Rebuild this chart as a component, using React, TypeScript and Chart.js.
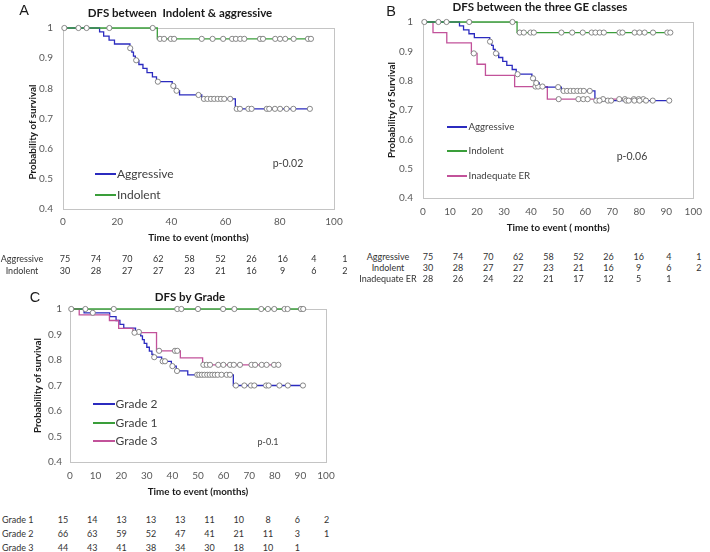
import React, { useEffect, useRef } from "react";
import { Chart, registerables } from "chart.js";
Chart.register(...registerables);

type Ev = [number, number];

// ---------- DATA ----------
const aggressiveEvents: Ev[] = [
  [13.5, 0.987], [15, 0.973], [17, 0.96], [19, 0.947], [24.7, 0.933], [25.4, 0.92],
  [26, 0.907], [26.7, 0.893], [28, 0.879], [29.5, 0.866], [31, 0.852], [33, 0.838],
  [34.5, 0.822], [40.3, 0.808], [41.5, 0.792], [43, 0.778], [51.2, 0.765], [63.6, 0.732],
];
const aggressiveCensored = [
  24.8, 27, 35, 40.7, 41.9, 50, 52, 53.3, 54.6, 55.8, 57.1, 58.3, 59.5, 61.7, 64.1, 65.3,
  68.4, 69.6, 75.2, 76.1, 78.2, 80.1, 82.5, 85, 91.1,
];
const indolentEvents: Ev[] = [[34.8, 0.964]];
const indolentCensored = [
  0.5, 5.7, 8.7, 17.1, 33.1, 35.8, 37.3, 39.8, 41, 51.2, 55.2, 59.1, 62.4, 63.8, 65.4, 66.9,
  72.7, 73.8, 78.3, 80.1, 82, 85.1, 90.4, 91.5,
];
const inadequateEvents: Ev[] = [
  [3.7, 0.964], [8.8, 0.929], [17.9, 0.893], [20, 0.856], [23.1, 0.818], [33.9, 0.78], [46, 0.737],
];
const inadequateCensored = [18.8, 41.6, 42.6, 44.2, 50.2, 57.5, 59.3, 60.9, 66.6, 72.6, 74.7, 78, 79.8, 81.5];

const grade1Events: Ev[] = [];
const grade1Censored = [0.5, 6, 17.1, 41.9, 43.5, 50, 59.8, 64.2, 74.7, 77.3, 79.8, 83.8, 85, 90.2, 91.1];
const grade2Events: Ev[] = [
  [5.5, 0.985], [15.5, 0.97], [18, 0.955], [19.5, 0.94], [21, 0.925], [25.6, 0.91], [27.6, 0.895],
  [28.3, 0.88], [29, 0.865], [30, 0.85], [31, 0.835], [32, 0.822], [32.6, 0.811], [35.8, 0.795],
  [39.6, 0.776], [41.5, 0.757], [46, 0.742], [63.8, 0.7],
];
const grade2Censored = [
  8.9, 26.9, 32.9, 36.2, 37.1, 40, 41.8, 49.7, 50.5, 51.5, 52.5, 53.6, 54.6, 55.6, 56.6, 57.7,
  59.2, 61.2, 62.5, 64.8, 68.1, 70.7, 72, 76.6, 77.6, 81.8, 85.1, 91,
];
const grade3Events: Ev[] = [
  [3.6, 0.977], [15.4, 0.955], [19, 0.924], [24.6, 0.907], [33.8, 0.836], [43.1, 0.808], [51.8, 0.781],
];
const grade3Censored = [
  25.2, 34.8, 41, 41.9, 52.1, 53.4, 54.7, 57.9, 59.9, 62.5, 64, 66.4, 70.9, 72.3, 74.9, 76.8, 79.7, 81.4,
];

// numbers at risk
const riskAggressive = [75, 74, 70, 62, 58, 52, 26, 16, 4, 1];
const riskIndolent = [30, 28, 27, 27, 23, 21, 16, 9, 6, 2];
const riskInadequate = [28, 26, 24, 22, 21, 17, 12, 5, 1];
const riskGrade1 = [15, 14, 13, 13, 13, 11, 10, 8, 6, 2];
const riskGrade2 = [66, 63, 59, 52, 47, 41, 21, 11, 3, 1];
const riskGrade3 = [44, 43, 41, 38, 34, 30, 18, 10, 1];

// ---------- STYLE ----------
const FONT = "Lato, 'Open Sans', sans-serif";
const BLUE = "#2b2bbf";
const GREEN = "#3a9e3a";
const PINK = "#c2529a";
const TICK = "#595959";
const TXT = "#1a1a1a";

function survAt(events: Ev[], t: number) {
  let s = 1;
  for (const [et, es] of events) if (et <= t) s = es;
  return s;
}
function curve(events: Ev[], censored: number[]) {
  const end = Math.max(...censored, ...events.map((e) => e[0]));
  const pts = [{ x: 0, y: 1 }, ...events.map(([x, y]) => ({ x, y }))];
  pts.push({ x: end, y: survAt(events, end) });
  return pts;
}
function marks(events: Ev[], censored: number[]) {
  return censored.map((t) => ({ x: t, y: survAt(events, t) }));
}

interface Series { label: string; color: string; events: Ev[]; censored: number[] }
interface Geo {
  left: number; top: number; width: number; height: number;
  L: number; T: number; R: number; B: number;
  titleX: number; titleY: number; yTitleX: number; yTitleY?: number;
  xTitleY: number; xTickPad: number; yTickPad: number;
}

function KMPanel(props: { geo: Geo; series: Series[]; xStep: number; title: string; yTitle: string; xTitle: string }) {
  const ref = useRef<HTMLCanvasElement>(null);
  const { geo: g, series, xStep, title, yTitle, xTitle } = props;
  useEffect(() => {
    const canvas = ref.current!;
    const titleSize = 11.5;
    const axisSize = 9.8;
    const AL = axisSize * 1.2;
    const padRight = g.left + g.width - g.R;
    const padTop = g.T - g.top;
    const yAxisW = g.L - g.left;
    const xAxisH = g.height - (g.B - g.top);
    const yTitlePad = g.yTitleX - g.left - AL / 2;
    const xTitlePadBottom = g.top + g.height - g.xTitleY - AL / 2;
    const customY = g.yTitleY !== undefined;

    const datasets: any[] = [];
    series.forEach((s) =>
      datasets.push({
        label: s.label + " (censored)",
        data: marks(s.events, s.censored),
        showLine: false,
        pointRadius: 2.6,
        pointBackgroundColor: "#ffffff",
        pointBorderColor: "#7a7a7a",
        pointBorderWidth: 0.9,
        clip: false,
      })
    );
    series.forEach((s) =>
      datasets.push({
        label: s.label,
        data: curve(s.events, s.censored),
        borderColor: s.color,
        borderWidth: 1.3,
        stepped: true,
        pointRadius: 0,
        fill: false,
        clip: false,
      })
    );

    const panelPlugin = {
      id: "panelDecor",
      beforeDatasetsDraw(chart: any) {
        const { ctx, chartArea: a } = chart;
        ctx.save();
        ctx.strokeStyle = "#c4c4c4";
        ctx.lineWidth = 1;
        ctx.strokeRect(Math.round(a.left) + 0.5, Math.round(a.top) + 0.5, Math.round(a.right - a.left), Math.round(a.bottom - a.top));
        ctx.restore();
      },
      afterDraw(chart: any) {
        const { ctx } = chart;
        ctx.save();
        ctx.font = `bold ${titleSize}px ${FONT}`;
        ctx.fillStyle = TXT;
        ctx.textAlign = "center";
        ctx.textBaseline = "middle";
        ctx.fillText(title, g.titleX - g.left, g.titleY - g.top);
        if (customY) {
          ctx.translate(g.yTitleX - g.left, (g.yTitleY as number) - g.top);
          ctx.rotate(-Math.PI / 2);
          ctx.font = `bold ${axisSize}px ${FONT}`;
          ctx.fillText(yTitle, 0, 0);
        }
        ctx.restore();
      },
    };

    const chart = new Chart(canvas, {
      type: "line",
      data: { datasets },
      plugins: [panelPlugin],
      options: {
        responsive: false,
        maintainAspectRatio: false,
        animation: false,
        devicePixelRatio: 1,
        layout: { padding: { left: 0, right: padRight, top: padTop, bottom: 0 } },
        plugins: {
          legend: { display: false },
          tooltip: { enabled: false },
          title: { display: false },
        },
        scales: {
          x: {
            type: "linear",
            min: 0,
            max: 100,
            grid: { display: false, drawTicks: false },
            border: { display: false },
            ticks: {
              stepSize: xStep,
              autoSkip: false,
              maxRotation: 0,
              padding: g.xTickPad,
              color: TICK,
              font: { family: FONT, size: 10, lineHeight: 1.2 },
            },
            title: {
              display: true,
              text: xTitle,
              color: TXT,
              font: { family: FONT, size: axisSize, weight: "bold", lineHeight: 1.2 },
              padding: { top: 0, bottom: xTitlePadBottom },
            },
            afterFit: (s: any) => { s.height = xAxisH; },
          },
          y: {
            type: "linear",
            min: 0.4,
            max: 1,
            grid: { display: false, drawTicks: false },
            border: { display: false },
            ticks: {
              stepSize: 0.1,
              padding: g.yTickPad,
              color: TICK,
              font: { family: FONT, size: 10, lineHeight: 1.2 },
              callback: (v: any) => String(Math.round(Number(v) * 10) / 10),
            },
            title: {
              display: !customY,
              text: yTitle,
              color: TXT,
              font: { family: FONT, size: axisSize, weight: "bold", lineHeight: 1.2 },
              padding: { top: yTitlePad, bottom: 0 },
            },
            afterFit: (s: any) => { s.width = yAxisW; },
          },
        },
      } as any,
    });
    return () => chart.destroy();
  }, []);
  return (
    <canvas
      ref={ref}
      width={g.width}
      height={g.height}
      style={{ position: "absolute", left: g.left, top: g.top, width: g.width, height: g.height }}
    />
  );
}

function Txt(p: { x: number; y: number; text: string; size: number; align?: "left" | "center"; weight?: string; color?: string; family?: string }) {
  return (
    <div
      style={{
        position: "absolute",
        left: p.x,
        top: p.y,
        transform: p.align === "left" ? "translate(0,-50%)" : "translate(-50%,-50%)",
        fontSize: p.size,
        fontWeight: (p.weight as any) || "normal",
        color: p.color || "#333",
        fontFamily: p.family || FONT,
        whiteSpace: "pre",
        lineHeight: 1,
      }}
    >
      {p.text}
    </div>
  );
}

function LegendLine(p: { x1: number; x2: number; y: number; color: string }) {
  return <div style={{ position: "absolute", left: p.x1, top: p.y - 0.65, width: p.x2 - p.x1, height: 1.3, background: p.color }} />;
}

function RiskRow(p: { label: string; values: number[]; labelX: number; labelAlign: "left" | "center"; y: number; x0: number; dx: number }) {
  return (
    <>
      <Txt x={p.labelX} y={p.y} text={p.label} size={9} align={p.labelAlign} />
      {p.values.map((v, i) => (
        <Txt key={i} x={p.x0 + i * p.dx} y={p.y} text={String(v)} size={9} />
      ))}
    </>
  );
}

const geoA: Geo = { left: 0, top: 0, width: 360, height: 249, L: 63, T: 28, R: 334, B: 209, titleX: 180, titleY: 13, yTitleX: 33, yTitleY: 132, xTitleY: 238, xTickPad: 7, yTickPad: 10 };
const geoB: Geo = { left: 360, top: 0, width: 350, height: 238, L: 423, T: 22, R: 699, B: 198, titleX: 540, titleY: 7, yTitleX: 392, xTitleY: 228, xTickPad: 8, yTickPad: 10 };
const geoC: Geo = { left: 0, top: 280, width: 360, height: 222, L: 70, T: 309, R: 326, B: 462, titleX: 190, titleY: 297, yTitleX: 38, xTitleY: 492, xTickPad: 8, yTickPad: 8 };

export default function App() {
  const aggr: Series = { label: "Aggressive", color: BLUE, events: aggressiveEvents, censored: aggressiveCensored };
  const indol: Series = { label: "Indolent", color: GREEN, events: indolentEvents, censored: indolentCensored };
  const inad: Series = { label: "Inadequate ER", color: PINK, events: inadequateEvents, censored: inadequateCensored };
  const g1: Series = { label: "Grade 1", color: GREEN, events: grade1Events, censored: grade1Censored };
  const g2: Series = { label: "Grade 2", color: BLUE, events: grade2Events, censored: grade2Censored };
  const g3: Series = { label: "Grade 3", color: PINK, events: grade3Events, censored: grade3Censored };
  const letterFont = "'Liberation Sans', Arial, sans-serif";
  return (
    <div style={{ position: "absolute", left: 0, top: 0, width: 710, height: 552, overflow: "hidden", background: "#fff", fontFamily: FONT }}>
      <KMPanel geo={geoA} series={[indol, aggr]} xStep={20} title="DFS between  Indolent & aggressive" yTitle="Probability of survival" xTitle="Time to event (months)" />
      <KMPanel geo={geoB} series={[indol, aggr, inad]} xStep={10} title="DFS between the three GE classes" yTitle="Probability of Survival" xTitle="Time to event ( months)" />
      <KMPanel geo={geoC} series={[g1, g3, g2]} xStep={10} title="DFS by Grade" yTitle="Probability of survival" xTitle="Time to event (months)" />

      <Txt x={24} y={10} text="A" size={14.5} color={TXT} family={letterFont} />
      <Txt x={391} y={11} text="B" size={14.5} color={TXT} family={letterFont} />
      <Txt x={35} y={297} text="C" size={14.5} color={TXT} family={letterFont} />

      {/* legends A */}
      <LegendLine x1={95} x2={116} y={174} color={BLUE} />
      <Txt x={117} y={174} text="Aggressive" size={12} align="left" color="#404040" />
      <LegendLine x1={95} x2={116} y={195} color={GREEN} />
      <Txt x={117} y={195} text="Indolent" size={12} align="left" color="#404040" />
      <Txt x={288} y={163} text="p-0.02" size={10.5} color="#404040" />

      {/* legends B */}
      <LegendLine x1={447} x2={467} y={127} color={BLUE} />
      <Txt x={468.5} y={127} text="Aggressive" size={9.7} align="left" color="#404040" />
      <LegendLine x1={447} x2={467} y={151} color={GREEN} />
      <Txt x={468.5} y={151} text="Indolent" size={9.7} align="left" color="#404040" />
      <LegendLine x1={447} x2={467} y={176} color={PINK} />
      <Txt x={468.5} y={176} text="Inadequate ER" size={9.7} align="left" color="#404040" />
      <Txt x={632} y={156} text="p-0.06" size={10.5} color="#404040" />

      {/* legends C */}
      <LegendLine x1={93} x2={115} y={404} color={BLUE} />
      <Txt x={115.5} y={404} text="Grade 2" size={12} align="left" color="#404040" />
      <LegendLine x1={93} x2={115} y={423} color={GREEN} />
      <Txt x={115.5} y={423} text="Grade 1" size={12} align="left" color="#404040" />
      <LegendLine x1={93} x2={115} y={441} color={PINK} />
      <Txt x={115.5} y={441} text="Grade 3" size={12} align="left" color="#404040" />
      <Txt x={268} y={441} text="p-0.1" size={9} color="#404040" />

      {/* numbers at risk */}
      <RiskRow label="Aggressive" values={riskAggressive} labelX={22} labelAlign="center" y={258} x0={65} dx={31.1} />
      <RiskRow label="Indolent" values={riskIndolent} labelX={22} labelAlign="center" y={270} x0={65} dx={31.1} />

      <RiskRow label="Aggressive" values={riskAggressive} labelX={388} labelAlign="center" y={256} x0={428} dx={30.1} />
      <RiskRow label="Indolent" values={riskIndolent} labelX={388} labelAlign="center" y={267} x0={428} dx={30.1} />
      <RiskRow label="Inadequate ER" values={riskInadequate} labelX={388} labelAlign="center" y={278} x0={428} dx={30.1} />

      <RiskRow label="Grade 1" values={riskGrade1} labelX={2} labelAlign="left" y={519} x0={63} dx={29.3} />
      <RiskRow label="Grade 2" values={riskGrade2} labelX={2} labelAlign="left" y={533} x0={63} dx={29.3} />
      <RiskRow label="Grade 3" values={riskGrade3} labelX={2} labelAlign="left" y={547} x0={63} dx={29.3} />
    </div>
  );
}
